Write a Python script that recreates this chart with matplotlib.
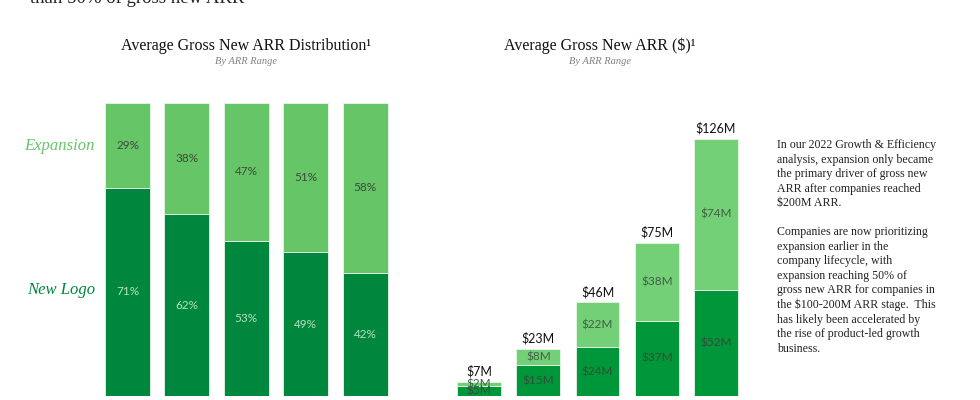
import matplotlib
matplotlib.use("Agg")
import matplotlib.pyplot as plt
import numpy as np

# ---- data ----
arr_ranges = ["<$20M", "$20-50M", "$50-100M", "$100-200M", ">$200M"]
dist_new_logo = [71, 62, 53, 49, 42]
dist_expansion = [29, 38, 47, 51, 58]
usd_new_logo = [5, 15, 24, 37, 52]
usd_expansion = [2, 8, 22, 38, 74]

W, H = 980, 400
fig = plt.figure(figsize=(W / 100, H / 100), dpi=100)
serif = "Liberation Serif"
sans = "Lato"

def fx(px):
    return px / W

def fy(py):
    return 1 - py / H

# cut-off header text
fig.text(fx(30), fy(3), "than 50% of gross new ARR", fontfamily=serif,
         fontsize=13.5, color="#222222", va="baseline", ha="left")

# ---- left chart ----
L_dark, L_light = "#00873e", "#66c566"
axL = fig.add_axes([fx(97.8), fy(396), fx(297), 293 / H])
x = np.arange(len(arr_ranges))
wL = 0.76
axL.bar(x, dist_new_logo, width=wL, color=L_dark, edgecolor="#e8f5ea", linewidth=0.6)
axL.bar(x, dist_expansion, width=wL, bottom=dist_new_logo, color=L_light,
        edgecolor="#e8f5ea", linewidth=0.6)
for i in range(len(x)):
    axL.text(x[i], dist_new_logo[i] / 2, f"{dist_new_logo[i]}%", ha="center", va="center",
             fontfamily=sans, fontsize=8.5, color="#b9dfc2")
    axL.text(x[i], dist_new_logo[i] + dist_expansion[i] / 2,
             f"{dist_expansion[i]}%", ha="center", va="center",
             fontfamily=sans, fontsize=8.5, color="#3b4a3d")
axL.set_xlim(-0.5, 4.5)
axL.set_ylim(0, 100)
axL.axis("off")

fig.text(fx(95), fy(146), "Expansion", fontfamily=serif, style="italic", fontsize=12,
         color="#66c566", ha="right", va="center")
fig.text(fx(95), fy(290), "New Logo", fontfamily=serif, style="italic", fontsize=12,
         color="#00873e", ha="right", va="center")

fig.text(fx(246), fy(46), "Average Gross New ARR Distribution\u00b9", fontfamily=serif,
         fontsize=11.5, color="#111111", ha="center", va="center")
fig.text(fx(246), fy(61), "By ARR Range", fontfamily=serif, style="italic",
         fontsize=7.5, color="#808080", ha="center", va="center")

# ---- right chart ----
R_dark, R_light = "#00963a", "#74d077"
axR = fig.add_axes([fx(449.4), fy(396), fx(296.25), 140 * 2.04 / H])
wR = 0.74
axR.bar(x, usd_new_logo, width=wR, color=R_dark, edgecolor="#e8f5ea", linewidth=0.6)
axR.bar(x, usd_expansion, width=wR, bottom=usd_new_logo, color=R_light,
        edgecolor="#e8f5ea", linewidth=0.6)
for i in range(len(x)):
    tot = usd_new_logo[i] + usd_expansion[i]
    axR.text(x[i], usd_new_logo[i] / 2, f"${usd_new_logo[i]}M", ha="center", va="center",
             fontfamily=sans, fontsize=8.5, color="#2f4f37")
    axR.text(x[i], usd_new_logo[i] + usd_expansion[i] / 2, f"${usd_expansion[i]}M",
             ha="center", va="center", fontfamily=sans, fontsize=8.5, color="#3f5f45")
    axR.text(x[i], tot + 2, f"${tot}M", ha="center", va="bottom",
             fontfamily=sans, fontsize=9, color="#111111")
axR.set_xlim(-0.5, 4.5)
axR.set_ylim(0, 140)
axR.axis("off")

fig.text(fx(600), fy(46), "Average Gross New ARR ($)\u00b9", fontfamily=serif,
         fontsize=11.5, color="#111111", ha="center", va="center")
fig.text(fx(600), fy(61), "By ARR Range", fontfamily=serif, style="italic",
         fontsize=7.5, color="#808080", ha="center", va="center")

# ---- annotation ----
note = ("In our 2022 Growth & Efficiency\n"
        "analysis, expansion only became\n"
        "the primary driver of gross new\n"
        "ARR after companies reached\n"
        "$200M ARR.\n"
        "\n"
        "Companies are now prioritizing\n"
        "expansion earlier in the\n"
        "company lifecycle, with\n"
        "expansion reaching 50% of\n"
        "gross new ARR for companies in\n"
        "the $100-200M ARR stage.  This\n"
        "has likely been accelerated by\n"
        "the rise of product-led growth\n"
        "business.")
fig.text(fx(777), fy(139), note, fontfamily=serif, fontsize=8.6, color="#222222",
         ha="left", va="top", linespacing=1.28)

fig.savefig("out.png", dpi=100, facecolor="white")
